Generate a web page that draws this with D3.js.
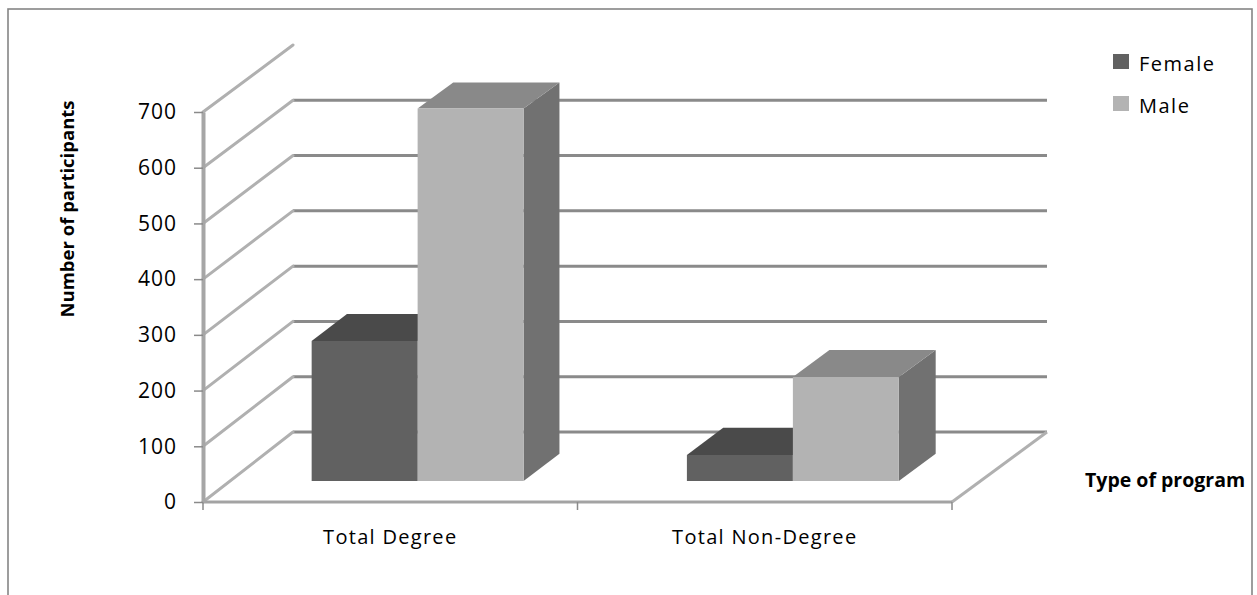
<!DOCTYPE html>
<html><head><meta charset="utf-8">
<script src="https://cdn.jsdelivr.net/npm/d3@7"></script>
<style>
html,body{margin:0;padding:0;background:#fff;}
svg{display:block;}
text{font-family:"Open Sans",sans-serif;fill:#000;}
</style></head><body>
<svg id="chart" width="1257" height="595"></svg>
<script>
// Participants by type of program and gender
const categories = ["Total Degree", "Total Non-Degree"];
const seriesNames = ["Female", "Male"];
const femaleValues = [252, 47];
const maleValues = [670, 187];
const yTicks = [0, 100, 200, 300, 400, 500, 600, 700];

const svg = d3.select("#chart");

// outer chart frame
svg.append("rect").attr("x", 8).attr("y", 9).attr("width", 1244).attr("height", 620)
  .attr("fill", "#fff").attr("stroke", "#858585").attr("stroke-width", 1.6);

// front and back planes of the 3-D plot box
const front = {x0: 203, x1: 952, y0: 502, h: 390};
const back  = {x0: 293, x1: 1047, y0: 432, h: 387};

const band = d3.scaleBand().domain(categories).range([0, 1]);
const fx = d3.scaleLinear().domain([0, 1]).range([front.x0, front.x1]);
const bx = d3.scaleLinear().domain([0, 1]).range([back.x0, back.x1]);
const fy = d3.scaleLinear().domain([0, 700]).range([front.y0, front.y0 - front.h]);
const by = d3.scaleLinear().domain([0, 700]).range([back.y0, back.y0 - back.h]);

// t: position along the category axis (0..1), v: value, d: depth (0 front .. 1 back)
function P(t, v, d) {
  return [fx(t) + (bx(t) - fx(t)) * d, fy(v) + (by(v) - fy(v)) * d];
}
const line = d3.line();

// back wall gridlines
const grid = svg.append("g");
grid.selectAll("path.back").data(yTicks.filter(v => v < 700)).join("path").attr("class", "back")
  .attr("d", v => line([P(0, v, 1), P(1, v, 1)]))
  .attr("stroke", "#8a8a8a").attr("stroke-width", 3).attr("fill", "none");
// side wall gridlines
grid.selectAll("path.side").data(yTicks).join("path").attr("class", "side")
  .attr("d", v => line([P(0, v, 0), P(0, v, 1)]))
  .attr("stroke", "#b0b0b0").attr("stroke-width", 3).attr("fill", "none")
  .attr("stroke-linecap", "round");
// right floor edge
grid.append("path").attr("d", line([P(1, 0, 0), P(1, 0, 1)]))
  .attr("stroke", "#b0b0b0").attr("stroke-width", 3).attr("fill", "none");

// category axis (front floor edge)
svg.append("path").attr("d", line([P(0, 0, 0), [front.x1, front.y0]]))
  .attr("stroke", "#a3a3a3").attr("stroke-width", 3).attr("fill", "none");
const edgeTicks = [0, 0.5, 1];
svg.selectAll("line.xt").data(edgeTicks).join("line").attr("class", "xt")
  .attr("x1", t => fx(t)).attr("x2", t => fx(t))
  .attr("y1", front.y0).attr("y2", front.y0 + 8)
  .attr("stroke", "#8a8a8a").attr("stroke-width", 1.5);
svg.selectAll("text.xl").data(categories).join("text").attr("class", "xl")
  .attr("x", c => fx(band(c) + band.bandwidth() / 2))
  .attr("y", 544).attr("text-anchor", "middle")
  .attr("font-size", 20).attr("letter-spacing", 1.3)
  .text(c => c);

// value axis on the front plane
const yAxis = svg.append("g").attr("transform", `translate(${front.x0},0)`)
  .call(d3.axisLeft(fy).tickValues(yTicks).tickSize(9).tickSizeOuter(0).tickPadding(17));
yAxis.select(".domain").attr("stroke", "#a6a6a6").attr("stroke-width", 4);
yAxis.selectAll(".tick line").attr("stroke", "#8a8a8a").attr("stroke-width", 1.5);
yAxis.selectAll(".tick text").attr("font-size", 21).attr("font-family", "Open Sans, sans-serif")
  .attr("fill", "#000").attr("letter-spacing", 1);

// 3-D columns
const colors = {
  Female: {front: "#616161", top: "#4a4a4a", side: "#3f3f3f"},
  Male:   {front: "#b3b3b3", top: "#898989", side: "#717171"}
};
const d1 = 0.3, d2 = 0.69;
const barW = 0.1412;
const bars = [];
categories.forEach((c, i) => {
  const mid = band(c) + band.bandwidth() / 2;
  bars.push({s: "Female", v: femaleValues[i], t0: mid - barW, t1: mid});
  bars.push({s: "Male", v: maleValues[i], t0: mid, t1: mid + barW});
});
const barG = svg.append("g");
bars.forEach(b => {
  const g = barG.append("g");
  const c = colors[b.s];
  g.append("path").attr("d", line([P(b.t1, 0, d1), P(b.t1, 0, d2), P(b.t1, b.v, d2), P(b.t1, b.v, d1)]) + "Z")
    .attr("fill", c.side);
  g.append("path").attr("d", line([P(b.t0, b.v, d1), P(b.t1, b.v, d1), P(b.t1, b.v, d2), P(b.t0, b.v, d2)]) + "Z")
    .attr("fill", c.top);
  g.append("path").attr("d", line([P(b.t0, 0, d1), P(b.t1, 0, d1), P(b.t1, b.v, d1), P(b.t0, b.v, d1)]) + "Z")
    .attr("fill", c.front);
});

// axis titles
svg.append("text").attr("transform", "translate(74,209) rotate(-90)")
  .attr("text-anchor", "middle").attr("font-size", 18.5).attr("font-weight", "bold")
  .text("Number of participants");
svg.append("text").attr("x", 1085).attr("y", 487)
  .attr("font-size", 19.5).attr("font-weight", "bold")
  .text("Type of program");

// legend
const legend = svg.append("g");
seriesNames.forEach((s, i) => {
  legend.append("rect").attr("x", 1113).attr("y", 54 + i * 42).attr("width", 16).attr("height", 15)
    .attr("fill", colors[s].front);
  legend.append("text").attr("x", 1139).attr("y", 71 + i * 42)
    .attr("font-size", 20).attr("letter-spacing", 1.5).text(s);
});
</script>
</body></html>
